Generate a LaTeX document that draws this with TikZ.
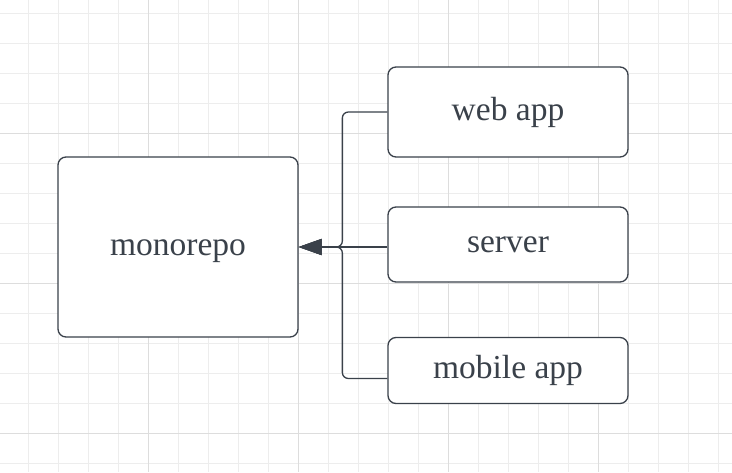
\documentclass[tikz,border=0pt]{standalone}
\usepackage{fontspec}
\setmainfont{Liberation Serif}
\usetikzlibrary{arrows.meta}
\definecolor{ink}{HTML}{3A414A}
\definecolor{gridminor}{HTML}{EDEDED}
\definecolor{gridmajor}{HTML}{DDDDDD}
\begin{document}
\begin{tikzpicture}[x=1pt,y=-1pt,
  box/.style={draw=ink, line width=1.3pt, fill=white, rounded corners=8pt,
    inner sep=0pt, text=ink, minimum width=240pt, text height=16pt, text depth=0pt,
    font=\fontsize{33.5}{40}\selectfont},
  link/.style={draw=ink, line width=1.3pt, rounded corners=6pt,
    -{Triangle[length=23pt,width=16pt]}},
  minorline/.style={draw=gridminor, line width=1pt},
  majorline/.style={draw=gridmajor, line width=1pt}]
\useasboundingbox (0,0) rectangle (732,472);
\fill[white] (0,0) rectangle (732,472);
\foreach \x in {28,58,...,718} \draw[minorline] (\x,0) -- (\x,472);
\foreach \y in {13,43,...,463} \draw[minorline] (0,\y) -- (732,\y);
\foreach \x in {148,298,448,598} \draw[majorline] (\x,0) -- (\x,472);
\foreach \y in {133,283,433} \draw[majorline] (0,\y) -- (732,\y);

\node[box, minimum height=180pt] (mono) at (178,247) {monorepo};
\node[box, minimum height=90pt] (web) at (508,112) {web app};
\node[box, minimum height=75pt] (server) at (508,244.5) {server};
\node[box, minimum height=66pt] (mobile) at (508,370.5) {mobile app};

\draw[link] (web.west) -- ++(-45,0) |- (mono.east);
\draw[link] (server.west |- mono.east) -- (mono.east);
\draw[link] ([yshift=-8pt]mobile.west) -- ++(-45,0) |- (mono.east);
\end{tikzpicture}
\end{document}
